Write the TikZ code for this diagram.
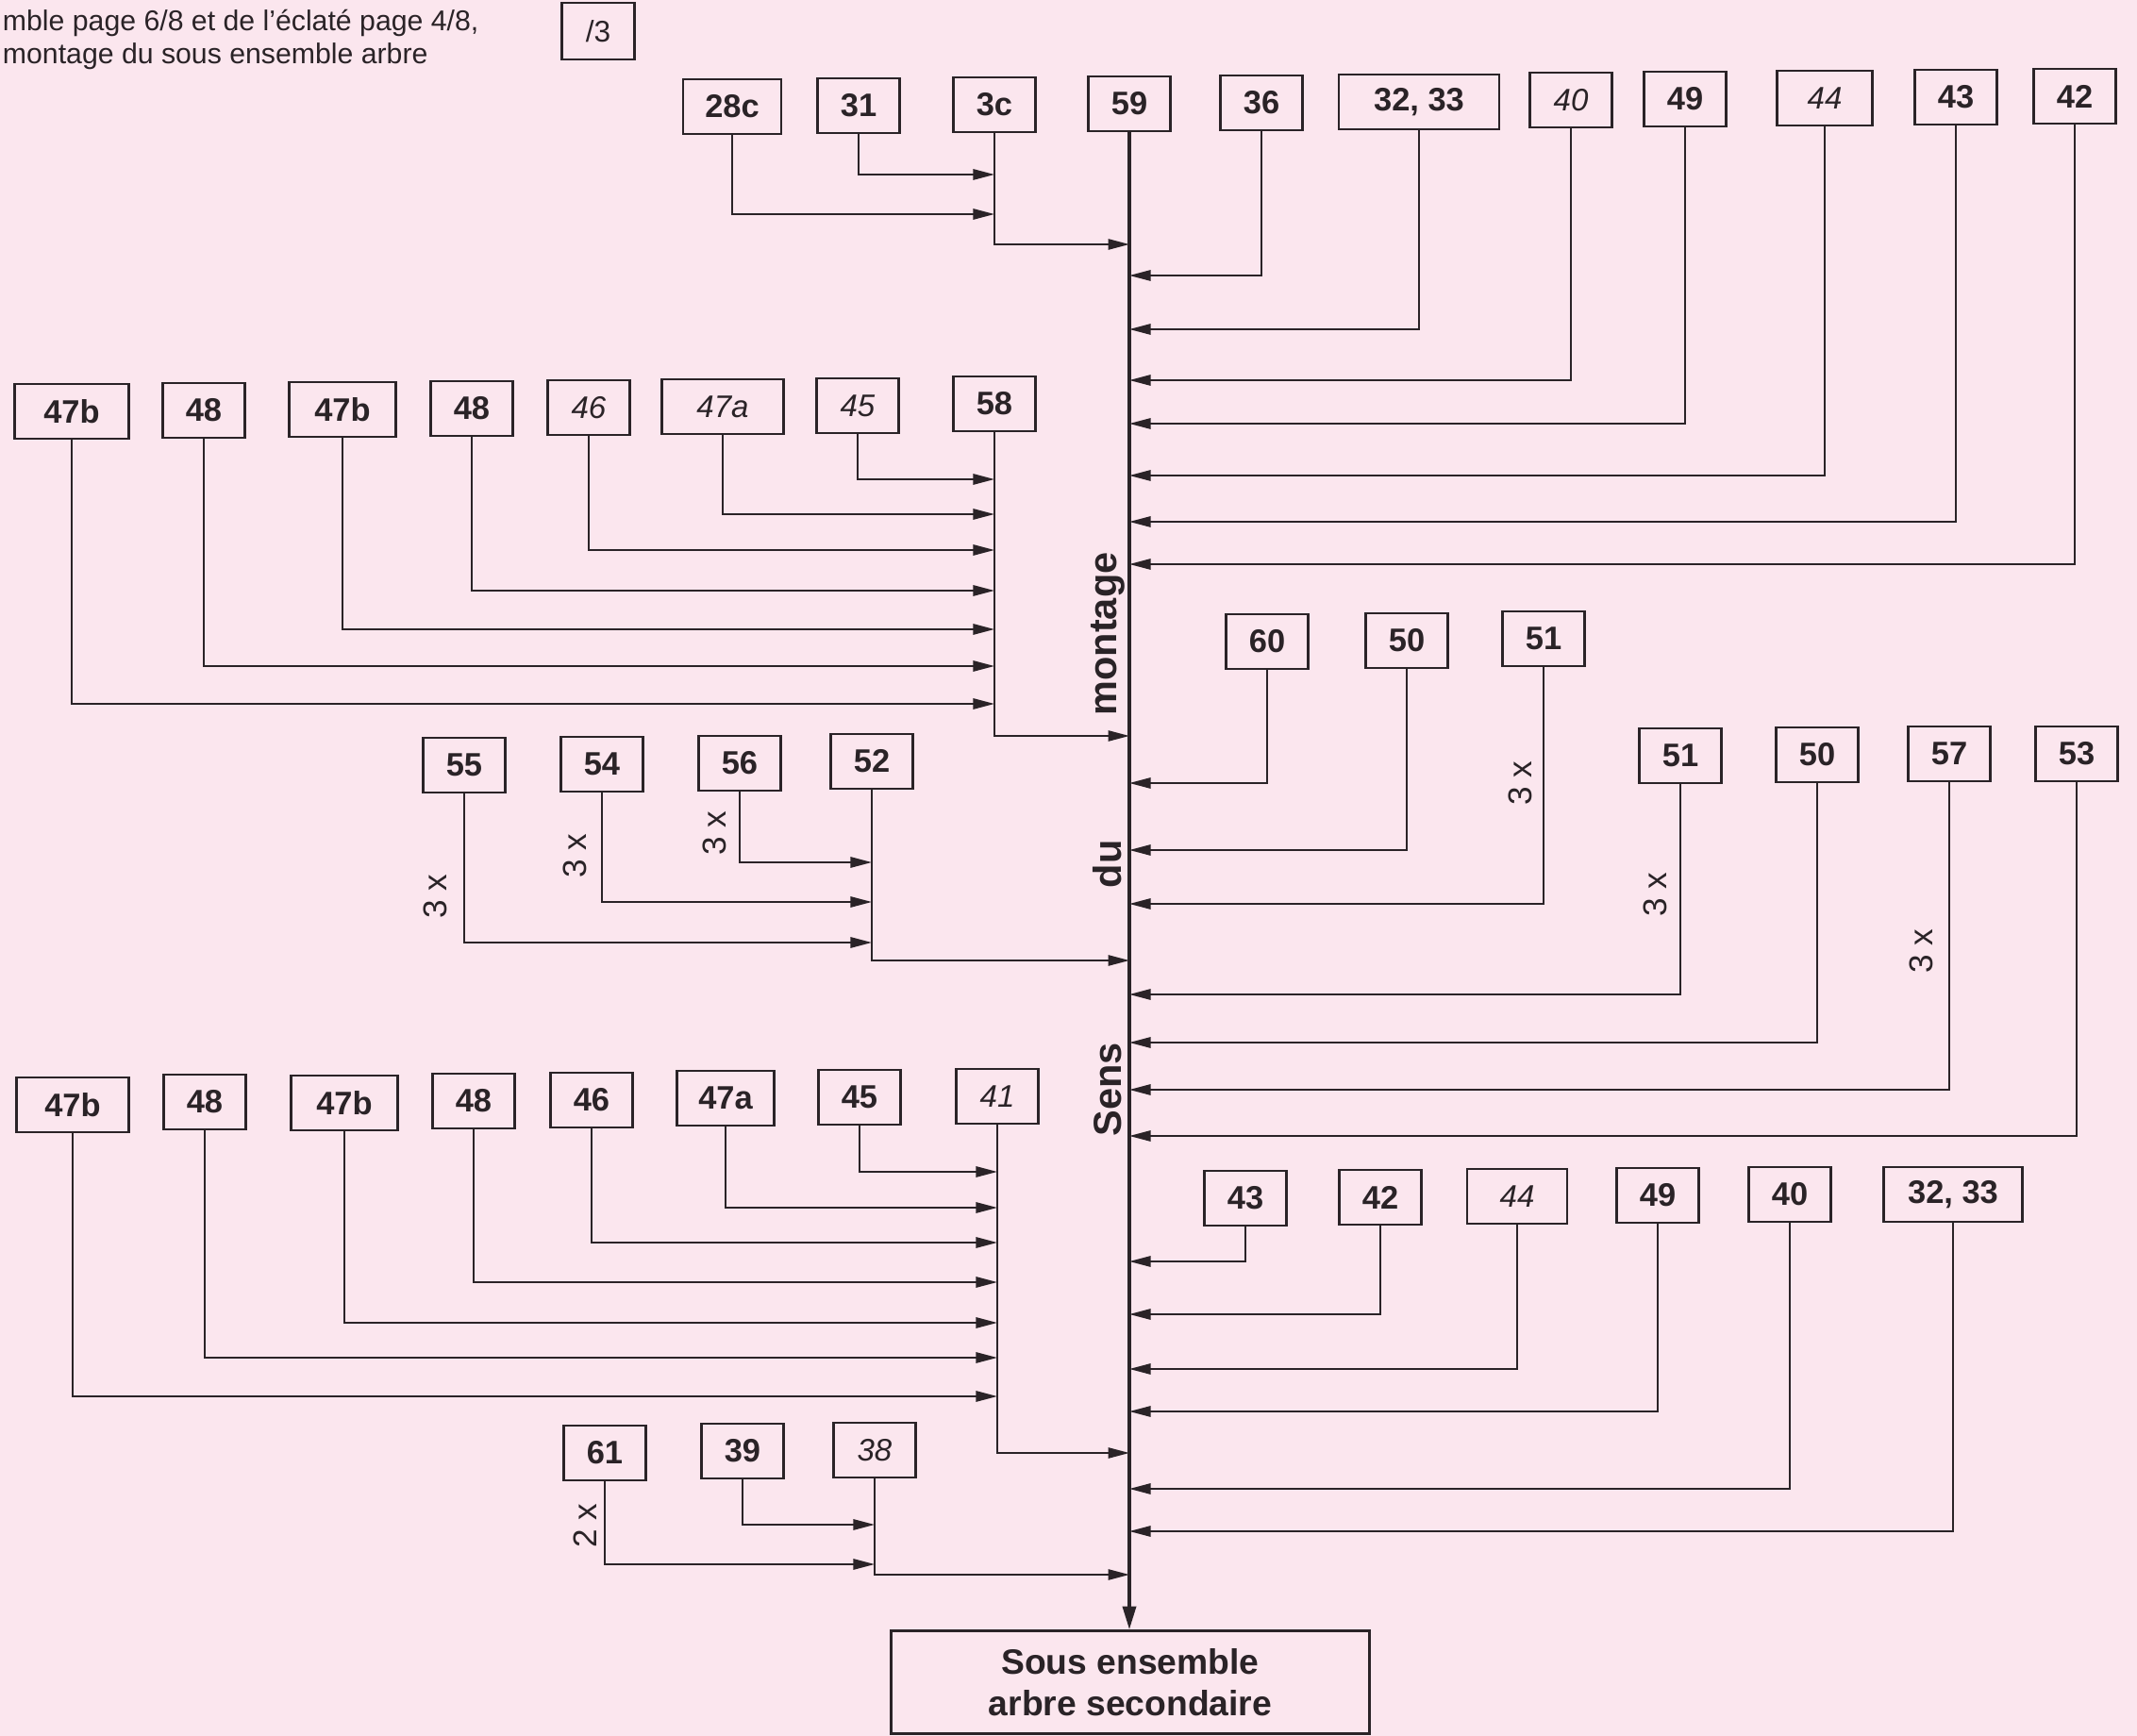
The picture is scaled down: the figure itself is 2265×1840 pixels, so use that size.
\documentclass[tikz,border=0pt]{standalone}
\usepackage{fontspec}
\setmainfont{Liberation Sans}
\usetikzlibrary{arrows.meta}
\definecolor{fond}{RGB}{251,230,238}
\definecolor{encre}{RGB}{42,35,39}

\begin{document}
\begin{tikzpicture}[x=0.01cm,y=-0.01cm,
  >={Triangle[length=6.4pt,width=3.2pt]},line width=0.55pt,draw=encre,text=encre,
  piece/.style={draw,line width=0.75pt,minimum width=0.87cm,minimum height=0.58cm,
    inner sep=0pt,font=\fontsize{9.8}{11}\selectfont\bfseries},
  hand/.style={piece,font=\fontsize{9.4}{11}\selectfont\itshape},
  fois/.style={rotate=90,font=\fontsize{10}{12}\selectfont},
  sens/.style={rotate=90,font=\fontsize{11.8}{14}\selectfont\bfseries},
  spine/.style={line width=1pt}]

  \fill[fond] (0,0) rectangle (2265,1840);
  \useasboundingbox (0,0) rectangle (2265,1840);

  % en-tete
  \node[anchor=base west,inner sep=0pt,font=\fontsize{8.6}{10}\selectfont] (ligne1) at (2,33)
    {mble page 6/8 et de l'éclaté page 4/8,};
  \node[anchor=base west,inner sep=0pt,font=\fontsize{8.6}{10}\selectfont] (ligne2) at (2,68)
    {montage du sous ensemble arbre};
  \node[draw,line width=0.6pt,minimum width=0.77cm,minimum height=0.6cm,inner sep=0pt,
    font=\fontsize{9}{10}\selectfont] (note) at (634,33) {/3};

  % rangee du haut
  \node[piece,minimum width=1.04cm] (p28c) at (776,113) {28c};
  \node[piece] (p31) at (910,112) {31};
  \node[piece] (p3c) at (1054,111) {3c};
  \node[piece] (p59) at (1197,110) {59};
  \node[piece] (p36) at (1337,109) {36};
  \node[piece,minimum width=1.70cm] (p3233a) at (1504,108) {32, 33};
  \node[hand] (p40a) at (1665,106) {40};
  \node[piece] (p49a) at (1786,105) {49};
  \node[hand,minimum width=1.01cm] (p44a) at (1934,104) {44};
  \node[piece] (p43a) at (2073,103) {43};
  \node[piece] (p42a) at (2199,102) {42};

  % groupe 58
  \node[piece,minimum width=1.21cm] (p47b1) at (76,436) {47b};
  \node[piece] (p48a) at (216,435) {48};
  \node[piece,minimum width=1.13cm] (p47b2) at (363,434) {47b};
  \node[piece] (p48b) at (500,433) {48};
  \node[hand] (p46a) at (624,432) {46};
  \node[hand,minimum width=1.29cm] (p47aa) at (766,431) {47a};
  \node[hand] (p45a) at (909,430) {45};
  \node[piece] (p58) at (1054,428) {58};

  % droite, milieu
  \node[piece] (p60) at (1343,680) {60};
  \node[piece] (p50a) at (1491,679) {50};
  \node[piece] (p51a) at (1636,677) {51};
  \node[piece] (p51b) at (1781,801) {51};
  \node[piece] (p50b) at (1926,800) {50};
  \node[piece] (p57) at (2066,799) {57};
  \node[piece] (p53) at (2201,799) {53};

  % groupe 52
  \node[piece] (p55) at (492,811) {55};
  \node[piece] (p54) at (638,810) {54};
  \node[piece] (p56) at (784,809) {56};
  \node[piece] (p52) at (924,807) {52};

  % groupe 41
  \node[piece,minimum width=1.19cm] (p47b3) at (77,1171) {47b};
  \node[piece] (p48c) at (217,1168) {48};
  \node[piece,minimum width=1.13cm] (p47b4) at (365,1169) {47b};
  \node[piece] (p48d) at (502,1167) {48};
  \node[piece] (p46b) at (627,1166) {46};
  \node[piece,minimum width=1.03cm] (p47ab) at (769,1164) {47a};
  \node[piece] (p45b) at (911,1163) {45};
  \node[hand] (p41) at (1057,1162) {41};

  % droite, bas
  \node[piece] (p43b) at (1320,1270) {43};
  \node[piece] (p42b) at (1463,1269) {42};
  \node[hand,minimum width=1.06cm] (p44b) at (1608,1268) {44};
  \node[piece] (p49b) at (1757,1267) {49};
  \node[piece] (p40b) at (1897,1266) {40};
  \node[piece,minimum width=1.47cm] (p3233b) at (2070,1266) {32, 33};

  % groupe 38
  \node[piece] (p61) at (641,1540) {61};
  \node[piece] (p39) at (787,1538) {39};
  \node[hand] (p38) at (927,1537) {38};

  \node[draw,line width=0.75pt,minimum width=5.07cm,minimum height=1.09cm,align=center,
    font=\fontsize{10.6}{12.4}\selectfont\bfseries] (sous) at (1198,1783)
    {Sous ensemble\\arbre secondaire};

  % axe de montage
  \draw[spine,-{Triangle[length=7pt,width=4pt]}] (p59) -- (p59 |- sous.north);
  \node[sens] (mot1) at (1174,672) {montage};
  \node[sens] (mot2) at (1174,916) {du};
  \node[sens] (mot3) at (1174,1155) {Sens};

  % branches du haut
  \draw[->] (p31) |- (p3c |- 0,185);
  \draw[->] (p28c) |- (p3c |- 0,227);
  \draw[->] (p3c) |- (p59 |- 0,259);
  \draw[->] (p36) |- (p59 |- 0,292);
  \draw[->] (p3233a) |- (p59 |- 0,349);
  \draw[->] (p40a) |- (p59 |- 0,403);
  \draw[->] (p49a) |- (p59 |- 0,449);
  \draw[->] (p44a) |- (p59 |- 0,504);
  \draw[->] (p43a) |- (p59 |- 0,553);
  \draw[->] (p42a) |- (p59 |- 0,598);

  \draw[->] (p45a) |- (p58 |- 0,508);
  \draw[->] (p47aa) |- (p58 |- 0,545);
  \draw[->] (p46a) |- (p58 |- 0,583);
  \draw[->] (p48b) |- (p58 |- 0,626);
  \draw[->] (p47b2) |- (p58 |- 0,667);
  \draw[->] (p48a) |- (p58 |- 0,706);
  \draw[->] (p47b1) |- (p58 |- 0,746);
  \draw[->] (p58) |- (p59 |- 0,780);

  % branches du milieu
  \draw[->] (p60) |- (p59 |- 0,830);
  \draw[->] (p50a) |- (p59 |- 0,901);
  \draw[->] (p51a) |- (p59 |- 0,958);
  \draw[->] (p51b) |- (p59 |- 0,1054);
  \draw[->] (p50b) |- (p59 |- 0,1105);
  \draw[->] (p57) |- (p59 |- 0,1155);
  \draw[->] (p53) |- (p59 |- 0,1204);

  \draw[->] (p56) |- (p52 |- 0,914);
  \draw[->] (p54) |- (p52 |- 0,956);
  \draw[->] (p55) |- (p52 |- 0,999);
  \draw[->] (p52) |- (p59 |- 0,1018);

  % branches du bas
  \draw[->] (p45b) |- (p41 |- 0,1242);
  \draw[->] (p47ab) |- (p41 |- 0,1280);
  \draw[->] (p46b) |- (p41 |- 0,1317);
  \draw[->] (p48d) |- (p41 |- 0,1359);
  \draw[->] (p47b4) |- (p41 |- 0,1402);
  \draw[->] (p48c) |- (p41 |- 0,1439);
  \draw[->] (p47b3) |- (p41 |- 0,1480);
  \draw[->] (p41) |- (p59 |- 0,1540);

  \draw[->] (p43b) |- (p59 |- 0,1337);
  \draw[->] (p42b) |- (p59 |- 0,1393);
  \draw[->] (p44b) |- (p59 |- 0,1451);
  \draw[->] (p49b) |- (p59 |- 0,1496);
  \draw[->] (p40b) |- (p59 |- 0,1578);
  \draw[->] (p3233b) |- (p59 |- 0,1623);

  \draw[->] (p39) |- (p38 |- 0,1616);
  \draw[->] (p61) |- (p38 |- 0,1658);
  \draw[->] (p38) |- (p59 |- 0,1669);

  % quantites
  \node[fois] (q51a) at (1611,830) {3 x};
  \node[fois] (q51b) at (1754,948) {3 x};
  \node[fois] (q57) at (2036,1008) {3 x};
  \node[fois] (q55) at (461,950) {3 x};
  \node[fois] (q54) at (609,907) {3 x};
  \node[fois] (q56) at (757,883) {3 x};
  \node[fois] (q61) at (620,1617) {2 x};
\end{tikzpicture}
\end{document}
